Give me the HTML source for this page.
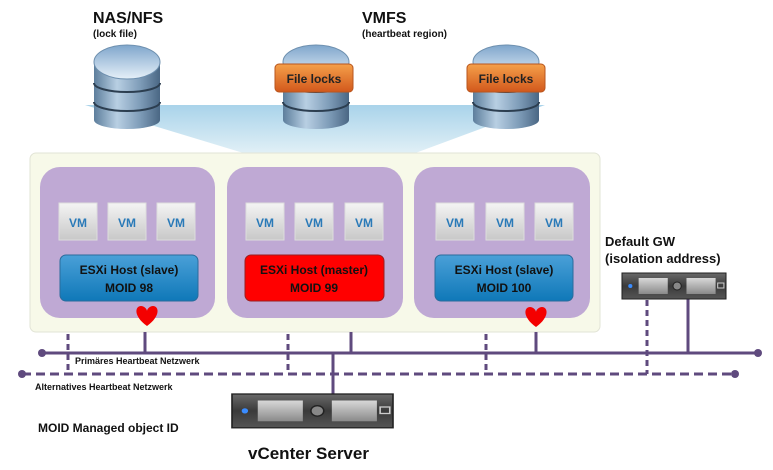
<!DOCTYPE html>
<html><head><meta charset="utf-8"><style>
html,body{margin:0;padding:0;background:#fff;}
svg{display:block;font-family:"Liberation Sans","DejaVu Sans",sans-serif;}
</style></head><body>
<svg width="773" height="470" viewBox="0 0 773 470" xmlns="http://www.w3.org/2000/svg">
<defs>
<linearGradient id="db" x1="0" x2="1" y1="0" y2="0">
<stop offset="0" stop-color="#5d7e9c"/><stop offset="0.35" stop-color="#b8cfe3"/><stop offset="0.7" stop-color="#7e9cb8"/><stop offset="1" stop-color="#4a6784"/></linearGradient>
<linearGradient id="dbt" x1="0" x2="0" y1="0" y2="1"><stop offset="0" stop-color="#7fa6cc"/><stop offset="1" stop-color="#e6f0f8"/></linearGradient>
<linearGradient id="or" x1="0" x2="0" y1="0" y2="1"><stop offset="0" stop-color="#f5a04a"/><stop offset="1" stop-color="#d2581c"/></linearGradient>
<linearGradient id="bl" x1="0" x2="0" y1="0" y2="1"><stop offset="0" stop-color="#4aa0d8"/><stop offset="1" stop-color="#0f78b8"/></linearGradient>
<linearGradient id="vm" x1="0" x2="0" y1="0" y2="1"><stop offset="0" stop-color="#f4f4f4"/><stop offset="1" stop-color="#c8c8c8"/></linearGradient>
<linearGradient id="tr" x1="0" x2="0" y1="0" y2="1"><stop offset="0" stop-color="#a9d3ea"/><stop offset="1" stop-color="#e3f1f7"/></linearGradient>
<linearGradient id="srv" x1="0" x2="0" y1="0" y2="1"><stop offset="0" stop-color="#6a6a6a"/><stop offset="0.5" stop-color="#3a3a3a"/><stop offset="1" stop-color="#555"/></linearGradient>
<linearGradient id="bay" x1="0" x2="0" y1="0" y2="1"><stop offset="0" stop-color="#d8d8d8"/><stop offset="1" stop-color="#8a8a8a"/></linearGradient>
<g id="dbs">
<rect x="-33" y="17" width="66" height="58" fill="url(#db)"/>
<ellipse cx="0" cy="75" rx="33" ry="9" fill="url(#db)"/>
<path d="M-33 38 A33 9 0 0 0 33 38" fill="none" stroke="#2c3e50" stroke-width="2"/>
<path d="M-33 57 A33 9 0 0 0 33 57" fill="none" stroke="#2c3e50" stroke-width="2"/>
<ellipse cx="0" cy="17" rx="33" ry="17" fill="url(#dbt)" stroke="#6d8fae" stroke-width="1"/>
</g>
<g id="vmb"><rect width="38" height="37" fill="url(#vm)" stroke="#ddd"/><text x="19" y="24" text-anchor="middle" font-size="12" font-weight="bold" fill="#2a7ab8">VM</text></g>
<g id="srvb">
<rect width="100" height="26" fill="url(#srv)" stroke="#222"/>
<circle cx="8" cy="13" r="2" fill="#3a8cff"/>
<rect x="16" y="5" width="28" height="16" fill="url(#bay)"/>
<circle cx="53" cy="13" r="4" fill="#888" stroke="#222"/>
<rect x="62" y="5" width="28" height="16" fill="url(#bay)"/>
<rect x="92" y="10" width="6" height="5" fill="none" stroke="#ccc"/>
</g>
<path id="heart" d="M0 10 C-14 0 -12 -10 -6 -10 C-3 -10 0 -7 0 -5 C0 -7 3 -10 6 -10 C12 -10 14 0 0 10Z" fill="#f40000"/>
</defs>

<polygon points="85,105 545,105 410,155 250,155" fill="url(#tr)"/>
<use href="#dbs" x="127" y="45"/>
<use href="#dbs" x="316" y="45"/>
<use href="#dbs" x="506" y="45"/>
<rect x="275" y="64" width="78" height="28" rx="4" fill="url(#or)" stroke="#b8561e"/>
<text x="314" y="83" text-anchor="middle" font-size="12" font-weight="bold" fill="#222">File locks</text>
<rect x="467" y="64" width="78" height="28" rx="4" fill="url(#or)" stroke="#b8561e"/>
<text x="506" y="83" text-anchor="middle" font-size="12" font-weight="bold" fill="#222">File locks</text>

<text x="93" y="23" font-size="16" font-weight="bold" fill="#111">NAS/NFS</text>
<text x="93" y="37" font-size="10" font-weight="bold" fill="#111">(lock file)</text>
<text x="362" y="23" font-size="16" font-weight="bold" fill="#111">VMFS</text>
<text x="362" y="37" font-size="10" font-weight="bold" fill="#111">(heartbeat region)</text>

<rect x="30" y="153" width="570" height="179" rx="6" fill="#f7f9e9" stroke="#e2e4d6"/>
<rect x="40" y="167" width="175" height="151" rx="20" fill="#bfa9d4"/>
<rect x="227" y="167" width="176" height="151" rx="20" fill="#bfa9d4"/>
<rect x="414" y="167" width="176" height="151" rx="20" fill="#bfa9d4"/>
<use href="#vmb" x="59" y="203"/><use href="#vmb" x="108" y="203"/><use href="#vmb" x="157" y="203"/>
<use href="#vmb" x="246" y="203"/><use href="#vmb" x="295" y="203"/><use href="#vmb" x="345" y="203"/>
<use href="#vmb" x="436" y="203"/><use href="#vmb" x="486" y="203"/><use href="#vmb" x="535" y="203"/>
<rect x="60" y="255" width="138" height="46" rx="6" fill="url(#bl)" stroke="#2a6c9c"/>
<rect x="245" y="255" width="139" height="46" rx="6" fill="#ff0000" stroke="#9a2020"/>
<rect x="435" y="255" width="138" height="46" rx="6" fill="url(#bl)" stroke="#2a6c9c"/>
<g font-size="12" font-weight="bold" fill="#111" text-anchor="middle">
<text x="129" y="274">ESXi Host (slave)</text><text x="129" y="292">MOID 98</text>
<text x="314" y="274">ESXi Host (master)</text><text x="314" y="292">MOID 99</text>
<text x="504" y="274">ESXi Host (slave)</text><text x="504" y="292">MOID 100</text>
</g>
<use href="#heart" x="147" y="316"/>
<use href="#heart" x="536" y="317"/>

<g stroke="#5f4a7e" stroke-width="3" fill="none">
<line x1="42" y1="353" x2="758" y2="353"/>
<line x1="22" y1="374" x2="735" y2="374" stroke-dasharray="9,5"/>
<line x1="145" y1="332" x2="145" y2="353"/>
<line x1="351" y1="332" x2="351" y2="353"/>
<line x1="536" y1="332" x2="536" y2="353"/>
<line x1="688" y1="299" x2="688" y2="353"/>
<line x1="333" y1="353" x2="333" y2="394"/>
<g stroke-dasharray="6,4">
<line x1="68" y1="334" x2="68" y2="374"/>
<line x1="288" y1="334" x2="288" y2="374"/>
<line x1="486" y1="334" x2="486" y2="374"/>
<line x1="647" y1="300" x2="647" y2="374"/>
</g>
</g>
<g fill="#5f4a7e"><circle cx="42" cy="353" r="4"/><circle cx="758" cy="353" r="4"/><circle cx="22" cy="374" r="4"/><circle cx="735" cy="374" r="4"/></g>

<text x="75" y="364" font-size="9" font-weight="bold" fill="#111">Primäres Heartbeat Netzwerk</text>
<text x="35" y="390" font-size="9" font-weight="bold" fill="#111">Alternatives Heartbeat Netzwerk</text>
<text x="38" y="432" font-size="12" font-weight="bold" fill="#111">MOID Managed object ID</text>

<g transform="translate(232,394) scale(1.61,1.3)"><use href="#srvb"/></g>
<text x="248" y="459" font-size="17" font-weight="bold" fill="#111">vCenter Server</text>
<g transform="translate(622,273) scale(1.04,1)"><use href="#srvb"/></g>
<text x="605" y="246" font-size="13" font-weight="bold" fill="#111">Default GW</text>
<text x="605" y="263" font-size="13" font-weight="bold" fill="#111">(isolation address)</text>
</svg>
</body></html>
